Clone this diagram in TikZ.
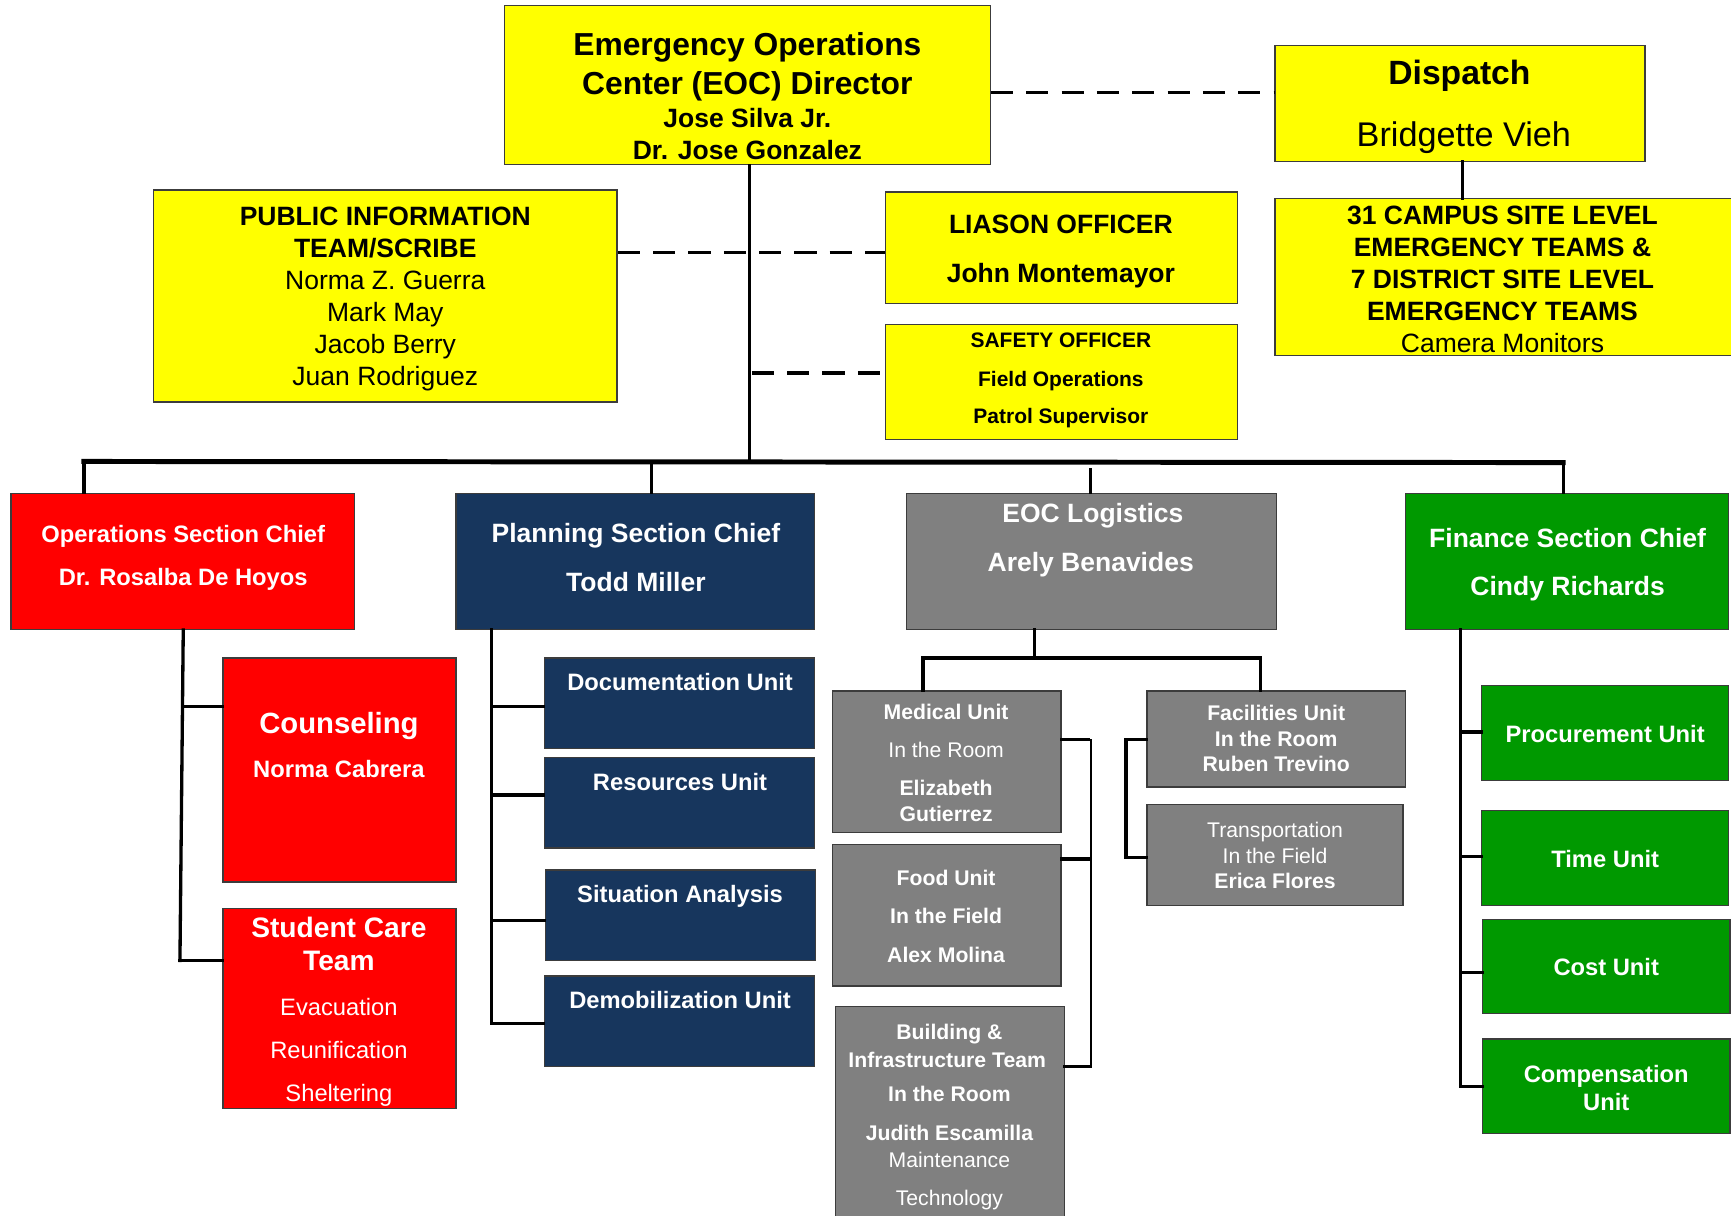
\documentclass[tikz,border=0pt]{standalone}
\usepackage{fontspec}
\setmainfont{Liberation Sans}
\definecolor{cyel}{RGB}{255,255,0}
\definecolor{cred}{RGB}{255,0,0}
\definecolor{cnavy}{RGB}{23,54,93}
\definecolor{cgray}{RGB}{128,128,128}
\definecolor{cgreen}{RGB}{0,153,0}
\definecolor{cedge}{RGB}{60,60,60}
\newcounter{tlc}
\newcommand\OBox[6]{%
  \pgfmathsetmacro\oBW{#5-#3}\pgfmathsetmacro\oBH{#6-#4}%
  \pgfmathsetmacro\oBX{(#3+#5)/2}\pgfmathsetmacro\oBY{(#4+#6)/2}%
  \node[box,#2,minimum width=\oBW bp,minimum height=\oBH bp] (#1) at (\oBX,\oBY) {};}
\newcommand\TxLine[5]{\stepcounter{tlc}\pgfmathsetmacro\tlY{#3+0.358*#4}%
  \node[tl,#1,font=\fontsize{#4bp}{#4bp}\selectfont] (tl\arabic{tlc}) at (#2,\tlY) {#5};}
\newcommand\TxB[5]{\TxLine{#1}{#2}{#3}{#4}{\bfseries #5}}
\newcommand\TxR[5]{\TxLine{#1}{#2}{#3}{#4}{#5}}
\begin{document}
\begin{tikzpicture}[x=1bp,y=-1bp,
  box/.style={draw=cedge,line width=1.2bp,inner sep=0pt,rectangle},
  yel/.style={fill=cyel}, red/.style={fill=cred}, navy/.style={fill=cnavy},
  gry/.style={fill=cgray}, grn/.style={fill=cgreen},
  tl/.style={inner sep=0pt,anchor=base},
  bk/.style={text=black}, wh/.style={text=white},
  conn/.style={line width=3bp,line cap=rect},
  thinc/.style={line width=2bp,line cap=rect},
  dsh/.style={line width=3bp,dash pattern=on 20bp off 12bp},
  busl/.style={line width=4.5bp,line cap=rect}]
\fill[white] (0,0) rectangle (1568,1101);
\useasboundingbox (0,0) rectangle (1568,1101);

% ---------- boxes ----------
\OBox{eoc}{yel}{457}{5}{897}{149}
\OBox{dsp}{yel}{1155}{41}{1490}{146}
\OBox{camp}{yel}{1155}{180}{1570}{322}
\OBox{pub}{yel}{139}{172}{559}{364}
\OBox{lia}{yel}{802}{174}{1121}{275}
\OBox{saf}{yel}{802}{294}{1121}{398}
\OBox{ops}{red}{10}{447}{321}{570}
\OBox{pln}{navy}{413}{447}{738}{570}
\OBox{log}{gry}{821}{447}{1156}{570}
\OBox{fin}{grn}{1273}{447}{1566}{570}
\OBox{cns}{red}{202}{596}{413}{799}
\OBox{stc}{red}{202}{823}{413}{1004}
\OBox{doc}{navy}{493}{596}{738}{678}
\OBox{res}{navy}{493}{686}{738}{768}
\OBox{sit}{navy}{494}{788}{739}{870}
\OBox{dem}{navy}{493}{884}{738}{966}
\OBox{med}{gry}{754}{626}{961}{754}
\OBox{food}{gry}{754}{765}{961}{893}
\OBox{bld}{gry}{757}{912}{964}{1115}
\OBox{fac}{gry}{1039}{626}{1273}{713}
\OBox{trn}{gry}{1039}{729}{1271}{820}
\OBox{proc}{grn}{1342}{621}{1566}{707}
\OBox{time}{grn}{1342}{734}{1566}{820}
\OBox{cost}{grn}{1343}{833}{1567}{918}
\OBox{comp}{grn}{1343}{941}{1567}{1027}

% ---------- texts ----------
\TxB{bk}{677}{40}{28.8}{Emergency Operations}
\TxB{bk}{677}{75}{28.8}{Center (EOC) Director}
\TxB{bk}{677}{107}{24}{Jose Silva Jr.}
\TxB{bk}{677}{136}{24}{Dr. Jose Gonzalez}

\TxB{bk}{1322}{66}{30.5}{Dispatch}
\TxR{bk}{1326}{122}{31}{Bridgette Vieh}

\TxB{bk}{1361}{195}{24}{31 CAMPUS SITE LEVEL}
\TxB{bk}{1361}{224}{24}{EMERGENCY TEAMS \&}
\TxB{bk}{1361}{253}{24}{7 DISTRICT SITE LEVEL}
\TxB{bk}{1361}{282}{24}{EMERGENCY TEAMS}
\TxR{bk}{1361}{311}{24}{Camera Monitors}

\TxB{bk}{349}{196}{24}{PUBLIC INFORMATION}
\TxB{bk}{349}{225}{24}{TEAM/SCRIBE}
\TxR{bk}{349}{254}{24}{Norma Z. Guerra}
\TxR{bk}{349}{283}{24}{Mark May}
\TxR{bk}{349}{312}{24}{Jacob Berry}
\TxR{bk}{349}{341}{24}{Juan Rodriguez}

\TxB{bk}{961}{203}{24}{LIASON OFFICER}
\TxB{bk}{961}{247}{24}{John Montemayor}

\TxB{bk}{961}{308}{19}{SAFETY OFFICER}
\TxB{bk}{961}{343}{19}{Field Operations}
\TxB{bk}{961}{377}{19}{Patrol Supervisor}

\TxB{wh}{166}{484}{21.5}{Operations Section Chief}
\TxB{wh}{166}{523}{21.5}{Dr. Rosalba De Hoyos}
\TxB{wh}{576}{483}{24}{Planning Section Chief}
\TxB{wh}{576}{527}{24}{Todd Miller}
\TxB{wh}{990}{465}{24}{EOC Logistics}
\TxB{wh}{988}{509}{24}{Arely Benavides}
\TxB{wh}{1420}{487}{24}{Finance Section Chief}
\TxB{wh}{1420}{531}{24}{Cindy Richards}

\TxB{wh}{307}{655}{26.5}{Counseling}
\TxB{wh}{307}{697}{21.5}{Norma Cabrera}
\TxB{wh}{307}{840}{25.5}{Student Care}
\TxB{wh}{307}{870}{25.5}{Team}
\TxR{wh}{307}{912}{21.5}{Evacuation}
\TxR{wh}{307}{951}{21.5}{Reunification}
\TxR{wh}{307}{990}{21.5}{Sheltering}

\TxB{wh}{616}{618}{21.5}{Documentation Unit}
\TxB{wh}{616}{708}{21.5}{Resources Unit}
\TxB{wh}{616}{810}{21.5}{Situation Analysis}
\TxB{wh}{616}{906}{21.5}{Demobilization Unit}

\TxB{wh}{857}{645}{19.2}{Medical Unit}
\TxR{wh}{857}{679}{19.2}{In the Room}
\TxB{wh}{857}{714}{19.2}{Elizabeth}
\TxB{wh}{857}{737}{19.2}{Gutierrez}
\TxB{wh}{857}{795}{19.2}{Food Unit}
\TxB{wh}{857}{830}{19.2}{In the Field}
\TxB{wh}{857}{865}{19.2}{Alex Molina}
\TxB{wh}{860}{935}{19.2}{Building \&}
\TxB{wh}{858}{960}{19.2}{Infrastructure Team}
\TxB{wh}{860}{991}{19.2}{In the Room}
\TxB{wh}{860}{1026}{19.2}{Judith Escamilla}
\TxR{wh}{860}{1051}{19.2}{Maintenance}
\TxR{wh}{860}{1085}{19.2}{Technology}

\TxB{wh}{1156}{646}{19.2}{Facilities Unit}
\TxB{wh}{1156}{669}{19.2}{In the Room}
\TxB{wh}{1156}{692}{19.2}{Ruben Trevino}
\TxR{wh}{1155}{752}{19.2}{Transportation}
\TxR{wh}{1155}{775}{19.2}{In the Field}
\TxB{wh}{1155}{798}{19.2}{Erica Flores}

\TxB{wh}{1454}{665}{21.5}{Procurement Unit}
\TxB{wh}{1454}{778}{21.5}{Time Unit}
\TxB{wh}{1455}{876}{21.5}{Cost Unit}
\TxB{wh}{1455}{973}{21.5}{Compensation}
\TxB{wh}{1455}{998}{21.5}{Unit}

% ---------- connectors ----------
\coordinate (d1) at (900,84);
\draw[dsh] (eoc.east |- d1) -- (dsp.west |- d1);
\coordinate (dc) at (1325,0);
\draw[conn] (dsp.south -| dc) -- (camp.north -| dc);
\coordinate (mv) at (679,418);
\draw[conn] (eoc.south -| mv) -- (mv);
\coordinate (pl) at (0,229);
\draw[dsh] (pub.east |- pl) -- (lia.west |- pl);
\coordinate (sl) at (681,338);
\draw[dsh] (sl) -- (saf.west |- sl);

\coordinate (busL) at (76,418);
\coordinate (busR) at (1416,419);
\draw[busl] (busL) -- (busR);
\draw[conn] (busL) -- (busL |- ops.north);
\coordinate (pd) at (590,418);
\draw[conn] (pd) -- (pd |- pln.north);
\coordinate (ld) at (988,425);
\draw[conn] (ld) -- (ld |- log.north);
\draw[conn] (busR) -- (busR |- fin.north);

% operations
\coordinate (oa) at (166,640);
\coordinate (ob) at (163,870);
\draw[conn] (ops.south -| oa) -- (ob);
\draw[conn] (oa) -- (cns.west |- oa);
\draw[conn] (ob) -- (stc.west |- ob);

% planning
\coordinate (pa) at (445,640);
\coordinate (pb) at (445,720);
\coordinate (pc) at (445,834);
\coordinate (pe) at (445,927);
\draw[conn] (pln.south -| pa) -- (pe);
\draw[conn] (pa) -- (doc.west |- pa);
\draw[conn] (pb) -- (res.west |- pb);
\draw[conn] (pc) -- (sit.west |- pc);
\draw[conn] (pe) -- (dem.west |- pe);

% logistics
\coordinate (lg1) at (937,596);
\coordinate (lgL) at (836,596);
\coordinate (lgR) at (1142,596);
\draw[conn] (log.south -| lg1) -- (lg1);
\draw[conn] (lgL |- med.north) -- (lgL) -- (lgR) -- (lgR |- fac.north);
\coordinate (mr1) at (988,670);
\coordinate (mr2) at (988,778);
\coordinate (mr3) at (988,966);
\draw[thinc] (med.east |- mr1) -- (mr1) -- (mr3) -- (bld.east |- mr3);
\draw[conn] (mr1) ++(-2,0) -- (med.east |- mr1);
\draw[conn] (mr2) -- (food.east |- mr2);
\draw[conn] (mr3) -- (bld.east |- mr3);
\coordinate (fb1) at (1020,670);
\coordinate (fb2) at (1020,777);
\draw[conn] (fac.west |- fb1) -- (fb1) -- (fb2) -- (trn.west |- fb2);

% finance
\coordinate (fa) at (1323,663);
\coordinate (fbb) at (1323,776);
\coordinate (fc) at (1323,881);
\coordinate (fd) at (1323,984);
\draw[conn] (fin.south -| fa) -- (fd);
\draw[conn] (fa) -- (proc.west |- fa);
\draw[conn] (fbb) -- (time.west |- fbb);
\draw[conn] (fc) -- (cost.west |- fc);
\draw[conn] (fd) -- (comp.west |- fd);
\end{tikzpicture}
\end{document}
